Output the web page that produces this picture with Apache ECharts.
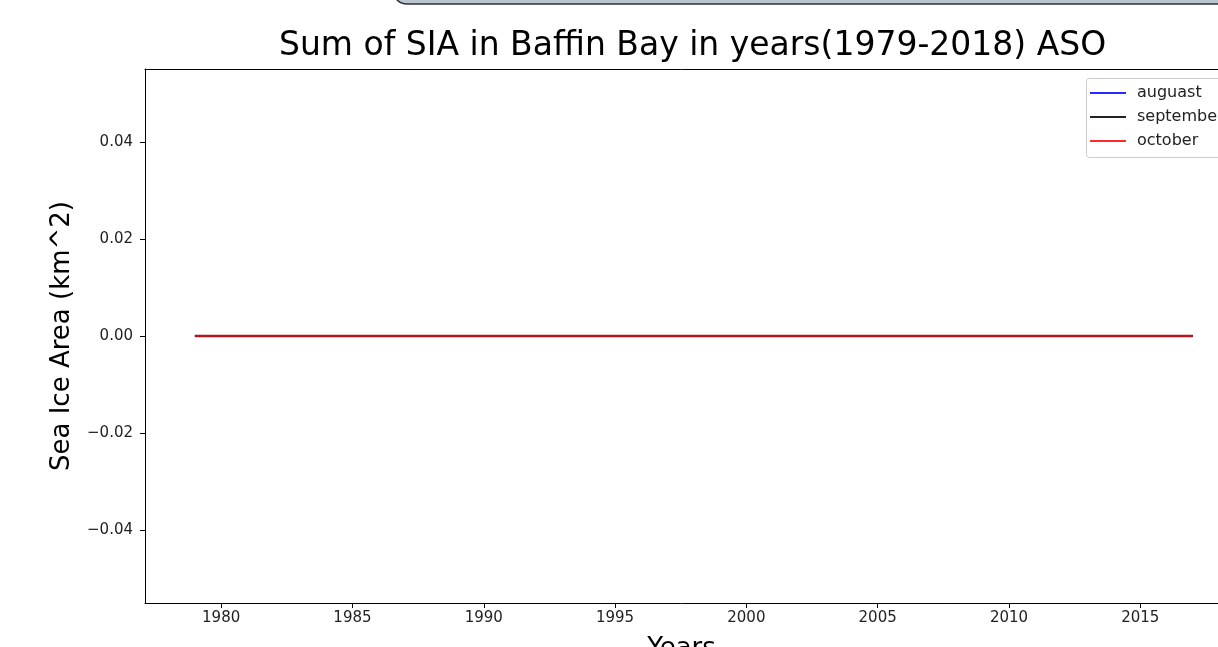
<!DOCTYPE html>
<html>
<head>
<meta charset="utf-8">
<title>Sum of SIA in Baffin Bay</title>
<script src="https://cdn.jsdelivr.net/npm/echarts@6/dist/echarts.min.js"></script>
<style>
  html, body { margin: 0; padding: 0; background: #fff; overflow: hidden; }
  #main { width: 1218px; height: 647px; }
</style>
</head>
<body>
<div id="main"></div>
<script>
// years 1979..2017, every month sums to zero
const years = [1979, 1980, 1981, 1982, 1983, 1984, 1985, 1986, 1987, 1988,
  1989, 1990, 1991, 1992, 1993, 1994, 1995, 1996, 1997, 1998,
  1999, 2000, 2001, 2002, 2003, 2004, 2005, 2006, 2007, 2008,
  2009, 2010, 2011, 2012, 2013, 2014, 2015, 2016, 2017];
const august = [0, 0, 0, 0, 0, 0, 0, 0, 0, 0, 0, 0, 0, 0, 0, 0, 0, 0, 0, 0,
  0, 0, 0, 0, 0, 0, 0, 0, 0, 0, 0, 0, 0, 0, 0, 0, 0, 0, 0];
const september = [0, 0, 0, 0, 0, 0, 0, 0, 0, 0, 0, 0, 0, 0, 0, 0, 0, 0, 0, 0,
  0, 0, 0, 0, 0, 0, 0, 0, 0, 0, 0, 0, 0, 0, 0, 0, 0, 0, 0];
const october = [0, 0, 0, 0, 0, 0, 0, 0, 0, 0, 0, 0, 0, 0, 0, 0, 0, 0, 0, 0,
  0, 0, 0, 0, 0, 0, 0, 0, 0, 0, 0, 0, 0, 0, 0, 0, 0, 0, 0];
const xTicks = [1980, 1985, 1990, 1995, 2000, 2005, 2010, 2015];
const yTicks = [-0.04, -0.02, 0, 0.02, 0.04];

const font = "'DejaVu Sans', sans-serif";
const pairs = (vals) => years.map((y, i) => [y, vals[i]]);

const myChart = echarts.init(document.getElementById('main'));

// the screenshot cuts the figure on the right, so the visible x range stops short of 2018.9
const xMin = 1977.1;
const xMaxVisible = 2017.96;

let options = {
  animation: false,
  backgroundColor: '#fff',
  textStyle: { fontFamily: font },
  title: {
    text: 'Sum of SIA in Baffin Bay in years(1979-2018) ASO',
    left: 279,
    top: 30,
    padding: 0,
    textStyle: { fontFamily: font, fontSize: 33, fontWeight: 'normal', color: '#000' }
  },
  graphic: [
    {
      // bit of the window frame above the figure
      type: 'rect',
      shape: { x: 393, y: -30, width: 900, height: 34, r: 14 },
      style: { fill: '#b9c5d1', stroke: '#333', lineWidth: 1.5 },
      silent: true
    },
    {
      // legend frame, runs off the right edge like the screenshot
      type: 'rect',
      z: 0,
      shape: { x: 1086.5, y: 78.5, width: 170, height: 79, r: 3 },
      style: { fill: '#fff', stroke: '#ccc', lineWidth: 1 },
      silent: true
    }
  ],
  legend: {
    orient: 'vertical',
    left: 1086,
    top: 79,
    padding: [6, 30, 8, 4],
    itemGap: 8,
    itemWidth: 36,
    itemHeight: 2,
    icon: 'rect',
    borderWidth: 0,
    textStyle: { fontFamily: font, fontSize: 16, color: '#222', padding: [0, 0, 0, 6] },
    data: ['auguast', 'september', 'october']
  },
  grid: {
    left: 145,
    top: 69,
    right: 0,
    bottom: 44,
    outerBoundsMode: 'none',
    containLabel: false,
    show: false
  },
  xAxis: [
    {
      type: 'value',
      min: xMin,
      max: xMaxVisible,
      name: 'Years',
      nameLocation: 'middle',
      nameGap: 33,
      nameTextStyle: { fontFamily: font, fontSize: 26, color: '#000' },
      axisLine: { show: true, onZero: false, lineStyle: { color: '#000', width: 1 } },
      axisTick: { show: true, inside: false, length: 5, lineStyle: { color: '#000' }, customValues: xTicks },
      axisLabel: {
        show: true, fontFamily: font, fontSize: 15, color: '#222', margin: 8,
        customValues: xTicks,
        formatter: (v) => String(v)
      },
      splitLine: { show: false }
    },
    {
      // top spine only
      type: 'value',
      position: 'top',
      min: xMin,
      max: xMaxVisible,
      axisLine: { show: true, onZero: false, lineStyle: { color: '#000', width: 1 } },
      axisTick: { show: false },
      axisLabel: { show: false },
      splitLine: { show: false }
    }
  ],
  yAxis: {
    type: 'value',
    min: -0.055,
    max: 0.055,
    name: 'Sea Ice Area (km^2)',
    nameLocation: 'middle',
    nameGap: 70,
    nameTextStyle: { fontFamily: font, fontSize: 26, color: '#000' },
    axisLine: { show: true, onZero: false, lineStyle: { color: '#000', width: 1 } },
    axisTick: { show: true, inside: false, length: 5, lineStyle: { color: '#000' }, customValues: yTicks },
    axisLabel: {
      show: true, fontFamily: font, fontSize: 15, color: '#222', margin: 12,
      customValues: yTicks,
      formatter: (v) => v.toFixed(2).replace('-', '\u2212')
    },
    splitLine: { show: false }
  },
  series: [
    {
      name: 'auguast', type: 'line', data: pairs(august),
      showSymbol: false, color: '#2a2aff', lineStyle: { width: 2 }
    },
    {
      name: 'september', type: 'line', data: pairs(september),
      showSymbol: false, color: '#222222', lineStyle: { width: 2 }
    },
    {
      // red drawn over black reads as a dark red in the picture
      name: 'october', type: 'line', data: pairs(october),
      showSymbol: false, color: '#ff2a2a', lineStyle: { width: 2.5, color: '#b8141c' }
    }
  ]
};
myChart.setOption(options);
</script>
</body>
</html>
